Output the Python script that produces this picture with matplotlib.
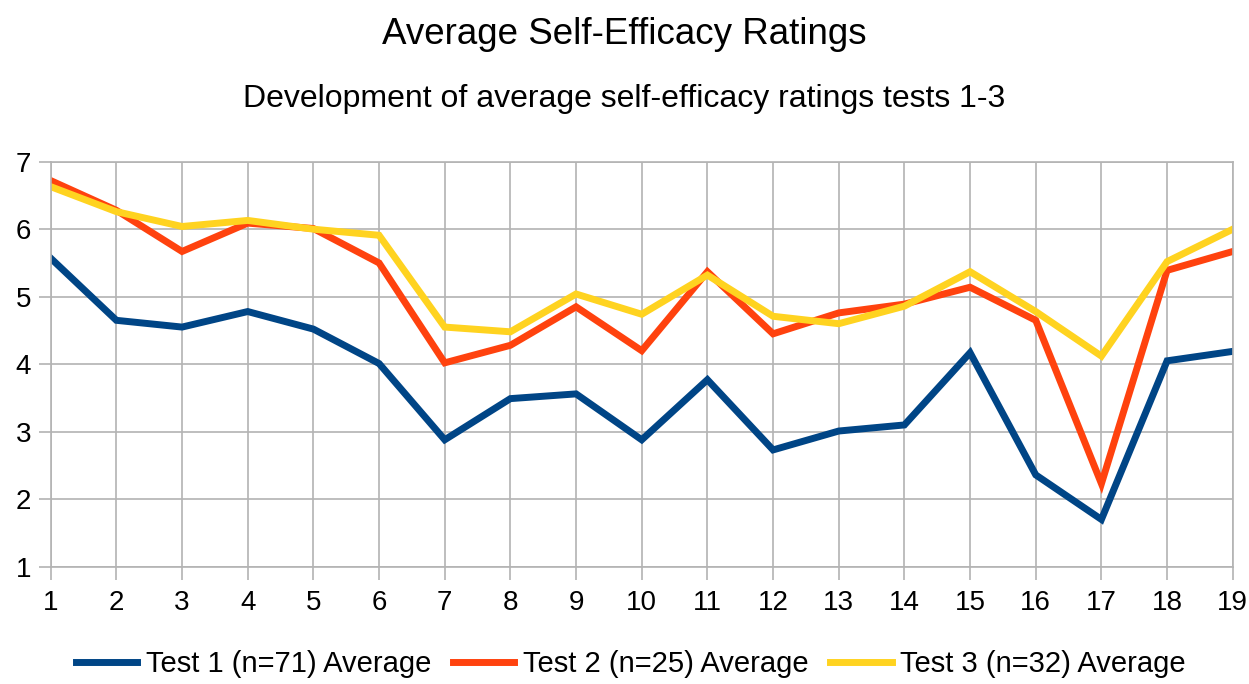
import numpy as np
import matplotlib
matplotlib.use('Agg')
import matplotlib.pyplot as plt

plt.rcParams['font.family'] = ['Liberation Sans', 'DejaVu Sans']

# test items 1..19
items = list(range(1, 20))

test1 = [5.57, 4.65, 4.55, 4.78, 4.52, 4.01, 2.88, 3.49, 3.56, 2.88,
         3.77, 2.73, 3.01, 3.10, 4.17, 2.36, 1.70, 4.05, 4.19]
test2 = [6.72, 6.28, 5.67, 6.09, 6.01, 5.50, 4.02, 4.28, 4.85, 4.20,
         5.37, 4.45, 4.76, 4.89, 5.14, 4.65, 2.23, 5.39, 5.67]
test3 = [6.63, 6.26, 6.04, 6.13, 6.00, 5.91, 4.55, 4.48, 5.04, 4.74,
         5.32, 4.71, 4.60, 4.86, 5.37, 4.78, 4.12, 5.52, 6.00]

labels = ['Test 1 (n=71) Average', 'Test 2 (n=25) Average', 'Test 3 (n=32) Average']
colors = ['#004586', '#ff420e', '#ffd320']

fig = plt.figure(figsize=(12.49, 6.84), dpi=100)
ax = fig.add_axes([0.0406, 0.1715, 0.9464, 0.5921])

for vals, lab, col in zip([test1, test2, test3], labels, colors):
    ax.plot(items, vals, color=col, linewidth=5, label=lab, solid_joinstyle='miter')

ax.set_xlim(1, 19)
ax.set_ylim(1, 7)
ax.set_xticks(items)
ax.set_yticks(range(1, 8))
ax.grid(True, color='#b3b3b3', linewidth=1.2)
ax.set_axisbelow(True)
for s in ax.spines.values():
    s.set_color('#b3b3b3')
    s.set_linewidth(1.2)
ax.tick_params(axis='both', colors='#b3b3b3', length=9, width=1.2,
               labelsize=20, labelcolor='black')
ax.tick_params(axis='x', pad=8)
ax.tick_params(axis='y', pad=5)

fig.text(0.5, 0.950, 'Average Self-Efficacy Ratings', ha='center', va='center', fontsize=26.5)
fig.text(0.5, 0.855, 'Development of average self-efficacy ratings tests 1-3',
         ha='center', va='center', fontsize=23)

fig.legend(loc='center', bbox_to_anchor=(0.505, 1 - 664 / 684), ncol=3, frameon=False,
           fontsize=21, handlelength=2.1, handletextpad=0.3, columnspacing=0.75)

fig.savefig('out.png', dpi=100)
